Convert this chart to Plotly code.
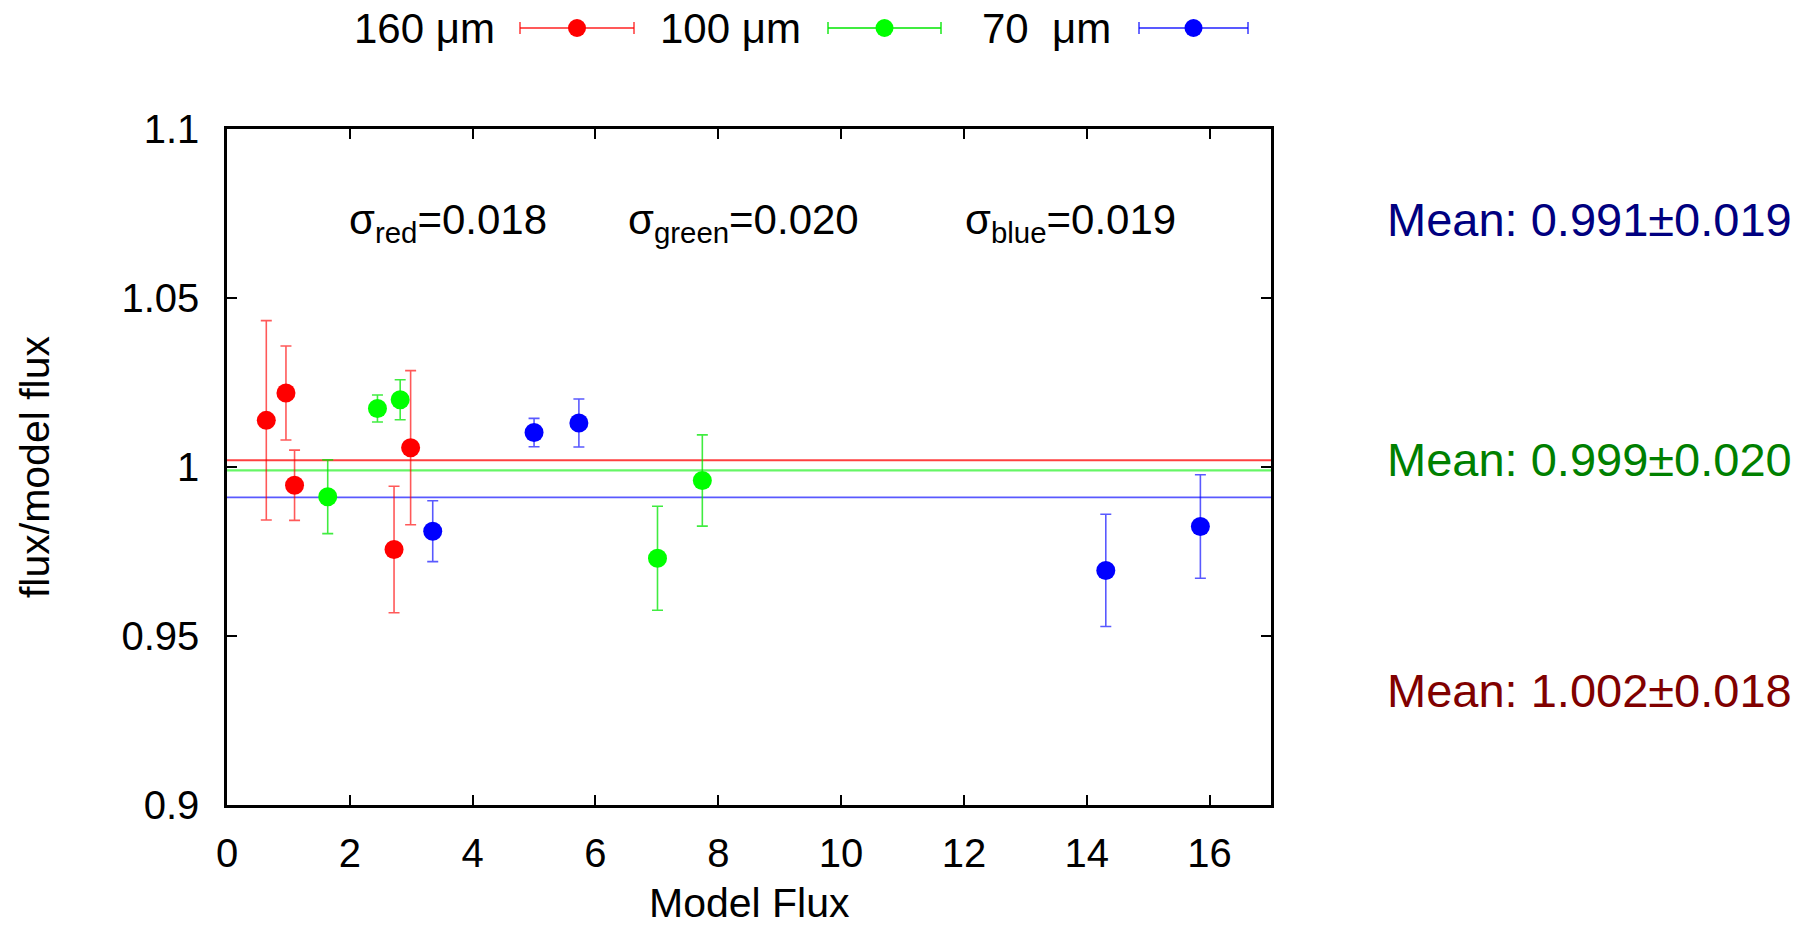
import plotly.graph_objects as go

# ---------------- data ----------------
red_x = [0.64, 0.96, 1.10, 2.72, 2.99]
red_y = [1.0138, 1.0219, 0.9946, 0.9756, 1.0057]
red_err = [0.0295, 0.0139, 0.0104, 0.0187, 0.0228]

green_x = [1.64, 2.45, 2.82, 7.01, 7.74]
green_y = [0.9912, 1.0173, 1.0199, 0.9730, 0.9960]
green_err = [0.0109, 0.0040, 0.0059, 0.0154, 0.0135]

blue_x = [3.35, 5.00, 5.73, 14.31, 15.85]
blue_y = [0.9810, 1.0102, 1.0130, 0.9694, 0.9824]
blue_err = [0.0090, 0.0042, 0.0071, 0.0166, 0.0153]

means = {"red": 1.002, "green": 0.999, "blue": 0.991}
mean_labels = ["Mean: 0.991±0.019", "Mean: 0.999±0.020", "Mean: 1.002±0.018"]
sigma_labels = ["σ<sub>red</sub>=0.018", "σ<sub>green</sub>=0.020", "σ<sub>blue</sub>=0.019"]
legend_labels = ["160 μm", "100 μm", "70  μm"]

x_ticks = [0, 2, 4, 6, 8, 10, 12, 14, 16]
y_ticks = [0.9, 0.95, 1.0, 1.05, 1.1]
y_ticktext = ["0.9", "0.95", "1", "1.05", "1.1"]
x_title = "Model Flux"
y_title = "flux/model flux"

# ---------------- layout geometry (pixels) ----------------
W, H = 1804, 929
L, R, T, B = 227, 1271, 129, 805
FONT = "Liberation Sans, Arial, Helvetica, sans-serif"


def px(xp):
    return (xp - L) / (R - L)


def py(yp):
    return (B - yp) / (B - T)


marker_col = {"red": "#ff0000", "green": "#00ff00", "blue": "#0000ff"}
err_col = {"red": "rgba(255,0,0,0.65)", "green": "rgba(0,230,0,0.75)", "blue": "rgba(0,0,255,0.65)"}
line_col = {"red": "rgba(255,0,0,0.75)", "green": "rgba(0,240,0,0.6)", "blue": "rgba(0,0,255,0.65)"}

fig = go.Figure()

series = [("red", red_x, red_y, red_err),
          ("green", green_x, green_y, green_err),
          ("blue", blue_x, blue_y, blue_err)]

for name, xs, ys, es in series:
    fig.add_trace(go.Scatter(
        x=xs, y=ys, mode="markers",
        marker=dict(size=19, color=marker_col[name], line=dict(width=0)),
        error_y=dict(type="data", array=es, visible=True, color=err_col[name],
                     thickness=1.6, width=5.5),
        showlegend=False,
    ))

shapes = []
# mean lines
for name in ["red", "green", "blue"]:
    shapes.append(dict(type="line", xref="x domain", yref="y", x0=0, x1=1,
                       y0=means[name], y1=means[name],
                       line=dict(color=line_col[name], width=2.2 if name == "green" else 1.8),
                       layer="below"))

annotations = []
# sigma labels
sig_x = [448, 743, 1070]
for s, xp in zip(sigma_labels, sig_x):
    annotations.append(dict(text=s, xref="paper", yref="paper", x=px(xp), y=py(222),
                            showarrow=False, xanchor="center", yanchor="middle",
                            font=dict(size=42, color="black", family=FONT)))

# mean labels (right side)
mean_y = [219, 459, 690]
mean_colors = ["#000080", "#008000", "#800000"]
for s, yp, c in zip(mean_labels, mean_y, mean_colors):
    annotations.append(dict(text=s, xref="paper", yref="paper", x=px(1794), y=py(yp),
                            showarrow=False, xanchor="right", yanchor="middle",
                            font=dict(size=47, color=c, family=FONT)))

# x axis title
annotations.append(dict(text=x_title, xref="paper", yref="paper", x=0.5, y=py(903),
                        showarrow=False, xanchor="center", yanchor="middle",
                        font=dict(size=41, color="black", family=FONT)))

# custom legend on top
leg_text_right = [497, 803, 1113]
leg_line = [(520, 634), (828, 941), (1139, 1248)]
leg_y = 28
for lab, xr, (a, b), name in zip(legend_labels, leg_text_right, leg_line, ["red", "green", "blue"]):
    annotations.append(dict(text=lab, xref="paper", yref="paper", x=px(xr), y=py(leg_y),
                            showarrow=False, xanchor="right", yanchor="middle",
                            font=dict(size=42, color="black", family=FONT)))
    shapes.append(dict(type="line", xref="paper", yref="paper", x0=px(a), x1=px(b),
                       y0=py(leg_y), y1=py(leg_y), line=dict(color=err_col[name], width=1.8)))
    for xc in (a, b):
        shapes.append(dict(type="line", xref="paper", yref="paper", x0=px(xc), x1=px(xc),
                           y0=py(leg_y - 6), y1=py(leg_y + 6),
                           line=dict(color=err_col[name], width=1.8)))
    cx = (a + b) / 2
    shapes.append(dict(type="circle", xref="paper", yref="paper",
                       x0=px(cx - 9), x1=px(cx + 9), y0=py(leg_y + 9), y1=py(leg_y - 9),
                       fillcolor=marker_col[name], line=dict(width=0)))

fig.update_layout(
    width=W, height=H,
    margin=dict(l=L, r=W - R, t=T, b=H - B, pad=0, autoexpand=False),
    paper_bgcolor="white", plot_bgcolor="white",
    font=dict(family=FONT, color="black"),
    shapes=shapes, annotations=annotations, showlegend=False,
)

fig.update_xaxes(
    range=[0, 17], tickvals=x_ticks, ticks="inside", ticklen=10, tickwidth=2,
    tickcolor="black", showline=True, linecolor="black", linewidth=2.5, mirror="allticks",
    showgrid=False, zeroline=False, tickfont=dict(size=40, family=FONT),
    ticklabelstandoff=11, automargin=False,
)
fig.update_yaxes(
    range=[0.9, 1.1], tickvals=y_ticks, ticktext=y_ticktext, ticks="inside", ticklen=10,
    tickwidth=2, tickcolor="black", showline=True, linecolor="black", linewidth=2.5,
    mirror="allticks", showgrid=False, zeroline=False, tickfont=dict(size=40, family=FONT),
    ticklabelstandoff=17, automargin=False,
    title=dict(text=y_title, font=dict(size=41, family=FONT), standoff=60),
)

fig.write_html(
    "out.html",
    config={"displayModeBar": False},
    post_script="document.body.style.margin='0px';document.body.style.overflow='hidden';",
)
